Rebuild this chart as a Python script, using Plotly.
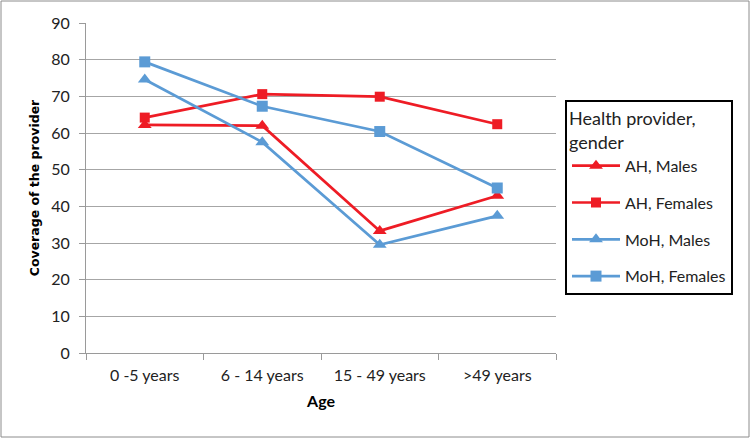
import plotly.graph_objects as go

categories = ["0 -5 years", "6 - 14 years", "15 - 49 years", ">49 years"]
ah_males = [62.2, 62.0, 33.3, 42.9]
ah_females = [64.2, 70.6, 69.9, 62.4]
moh_males = [74.6, 57.5, 29.5, 37.4]
moh_females = [79.4, 67.3, 60.4, 45.0]

RED = "#EE1C25"
BLUE = "#5B9BD5"
FONT = "Lato, 'Liberation Sans', sans-serif"

series = [
    ("AH, Males", ah_males, RED, "triangle-up", 12),
    ("AH, Females", ah_females, RED, "square", 10),
    ("MoH, Males", moh_males, BLUE, "triangle-up", 12),
    ("MoH, Females", moh_females, BLUE, "square", 11),
]

fig = go.Figure()
for name, vals, col, sym, sz in series:
    fig.add_trace(go.Scatter(
        x=categories, y=vals, name=name, mode="lines+markers", legendgroup=name,
        line=dict(color=col, width=2.7),
        marker=dict(symbol=sym, size=sz, color=col),
    ))

L, R, T, B = 86, 194, 23, 85
W, H = 750, 438
pw, ph = W - L - R, H - T - B

fig.update_layout(
    width=W, height=H,
    margin=dict(l=L, r=R, t=T, b=B, autoexpand=False),
    paper_bgcolor="white", plot_bgcolor="white",
    font=dict(family=FONT, size=16, color="#222"),
    showlegend=True,
    legend=dict(
        x=(565 - L) / pw, y=(353 - 100) / ph, xanchor="left", yanchor="top",
        bordercolor="black", borderwidth=2, bgcolor="white",
        title=dict(text="Health provider,<br>gender", font=dict(family=FONT, size=18, color="#222")),
        font=dict(family=FONT, size=16, color="#222"),
        tracegroupgap=13, itemwidth=48,
    ),
    xaxis=dict(
        type="category", range=[-0.5, 3.5], showgrid=False, showline=True,
        linecolor="#9a9a9a", linewidth=1, automargin=False,
        ticks="outside", tickson="boundaries", ticklen=6, tickcolor="#9a9a9a",
        ticklabelstandoff=8,
        tickfont=dict(family=FONT, size=16, color="#222"),
        title=dict(text="<b>Age</b>", font=dict(family=FONT, size=16, color="black"), standoff=12),
    ),
    yaxis=dict(
        range=[0, 90], dtick=10, showgrid=True, gridcolor="#a6a6a6", gridwidth=1,
        showline=True, linecolor="#9a9a9a", linewidth=1, automargin=False,
        ticks="outside", ticklen=6, tickcolor="#9a9a9a", zeroline=False,
        ticklabelstandoff=6,
        tickfont=dict(family=FONT, size=16, color="#222"),
        title=dict(text="<b>Coverage of the provider</b>",
                   font=dict(family="'DejaVu Sans', Verdana, sans-serif", size=12.5, color="black"),
                   standoff=8),
    ),
)

fig.add_shape(
    type="rect", xref="paper", yref="paper",
    x0=(1 - L) / pw, x1=(749 - L) / pw, y0=(353 - 437) / ph, y1=(353 - 1) / ph,
    line=dict(color="#8c8c8c", width=1), fillcolor="rgba(0,0,0,0)", layer="below",
)

fig.write_html(
    "out.html",
    config={"displayModeBar": False},
    post_script="document.body.style.margin='0';document.body.style.overflow='hidden';",
)
